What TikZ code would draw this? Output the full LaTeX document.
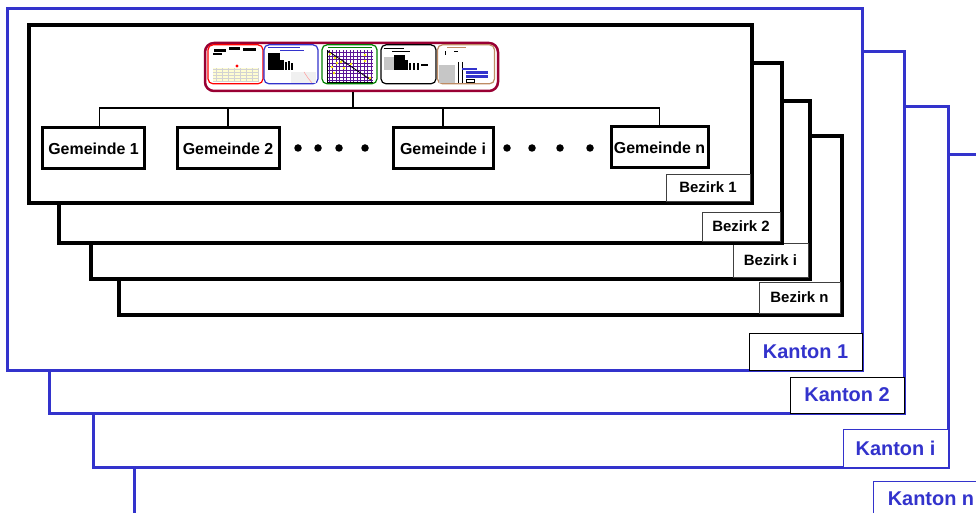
\documentclass[tikz,border=0pt]{standalone}
\usepackage{fontspec}
\setmainfont{Liberation Sans}
\usetikzlibrary{positioning}
\definecolor{kantonblau}{RGB}{51,51,204}
\definecolor{bildrot}{RGB}{153,0,51}
\definecolor{bildgruen}{RGB}{0,128,0}
\definecolor{bildbraun}{RGB}{190,140,100}
\definecolor{gitter}{RGB}{90,20,150}

\begin{document}
\begin{tikzpicture}[x=1bp, y=-1bp,
        kanton/.style={draw=kantonblau, line width=3bp, fill=white},
        bezirk/.style={draw=black, line width=4bp, fill=white},
        kantonlabel/.style={draw=black, line width=0.8bp, fill=white, text=kantonblau, inner sep=0pt, outer sep=0pt, anchor=south east, font=\bfseries\fontsize{20}{24}\selectfont},
        bezirklabel/.style={draw=black!75, line width=0.8bp, fill=white, inner sep=0pt, outer sep=0pt, anchor=south east, font=\bfseries\fontsize{15}{18}\selectfont},
        gemeinde/.style={draw, line width=3bp, fill=white, minimum height=41bp, inner sep=1bp, font=\bfseries\fontsize{16}{19}\selectfont},
        tree/.style={line width=1.5bp},
        punkt/.style={circle, fill=black, inner sep=0pt, minimum size=7.5bp},
        thumb/.style={rounded corners=5bp, line width=1.2bp, fill=white, minimum height=39bp, inner sep=0pt}
    ]
        \useasboundingbox (0,0) rectangle (976,513);
        \clip (0,0) rectangle (976,513);

        % Kantone (hinten nach vorne)
        \draw[kanton] (134,155) rectangle (989,516);
        \node[kantonlabel, draw=kantonblau, minimum width=116bp, minimum height=35bp] (Kn) at (989,516) {Kanton n};
        \draw[kanton] (93,107) rectangle (948,467);
        \node[kantonlabel, draw=kantonblau, minimum width=105bp, minimum height=38bp] (Ki) at (948,467) {Kanton i};
        \draw[kanton] (49,52) rectangle (904,413);
        \node[kantonlabel, minimum width=114bp, minimum height=36bp] (K2) at (904,413) {Kanton 2};
        \draw[kanton] (7,9) rectangle (862,370.5);
        \node[kantonlabel, minimum width=113bp, minimum height=37bp] (K1) at (862,370.5) {Kanton 1};

        % Bezirke (hinten nach vorne)
        \draw[bezirk] (119,136) rectangle (842,315);
        \node[bezirklabel, minimum width=81bp, minimum height=31bp] (Bn) at (840,313) {Bezirk n};
        \draw[bezirk] (91,101) rectangle (810,279);
        \node[bezirklabel, minimum width=75bp, minimum height=34bp] (Bi) at (808,277) {Bezirk i};
        \draw[bezirk] (59,63) rectangle (782,243);
        \node[bezirklabel, minimum width=78bp, minimum height=29bp] (B2) at (780,241) {Bezirk 2};
        \draw[bezirk] (29,25) rectangle (752,203);
        \node[bezirklabel, minimum width=84bp, minimum height=27bp] (B1) at (750,201) {Bezirk 1};

        % Bildergruppe oben
        \node[draw=bildrot, line width=2.5bp, rounded corners=9bp, minimum width=293bp, minimum height=48bp, inner sep=0pt] (bilder) at (351.5,67) {};
        \node[thumb, draw=red, minimum width=55bp] (t1) at (235.5,64.3) {};
        \node[thumb, draw=kantonblau, minimum width=54bp] (t2) at (291,64.3) {};
        \node[thumb, draw=bildgruen, minimum width=55bp] (t3) at (349.5,64.3) {};
        \node[thumb, draw=black, minimum width=55bp] (t4) at (408.5,64.3) {};
        \node[thumb, draw=bildbraun, minimum width=57bp] (t5) at (466,64.3) {};

        % Inhalt der Miniaturen
        \fill (214,49) rectangle (226,52);
        \fill (229,47.5) rectangle (240,50);
        \fill (243,48) rectangle (256,51);
        \fill (213,53) rectangle (222,55);
        \fill[red] (237,66) circle (1.6);
        \fill[yellow!18] (213,68) rectangle (259,82);
        \draw[gray!35, line width=0.3bp, ystep=3bp, xstep=6bp] (213,68) grid (259,82);

        \fill[kantonblau] (268,47.5) rectangle (300,48.5);
        \fill[kantonblau] (280,50) rectangle (304,51);
        \fill (268,53) rectangle (280,70);
        \fill (280,60) rectangle (284,70);
        \fill (285,62) rectangle (287,70);
        \fill (288,61) rectangle (290,70);
        \fill (291,63) rectangle (293,70);
        \fill[gray!12] (291,72) rectangle (316,83);
        \draw[red!40, line width=0.5bp] (304,72) -- (308,78) -- (312,83);

        \fill[bildgruen] (328,47.5) rectangle (372,48.5);
        \draw[gitter, line width=0.45bp, xstep=3.5bp, ystep=3.5bp] (327,50) grid (373,82);
        \draw[line width=0.6bp] (327,50) -- (327,82) -- (373,82);
        \draw[line width=0.8bp] (328,51) -- (371,80);
        \foreach \p in {(330,54),(335,58),(332,67),(337,63),(341,62),(344,68),(351,64),(365,55),(365,61),(370,78),(334,73)}
            \fill[yellow] \p circle (1.3);

        \fill (384,48) rectangle (404,49);
        \fill (392,51) rectangle (410,52);
        \fill[gray!45] (384,57) rectangle (398,70);
        \fill (394,55) rectangle (405,70);
        \fill (405,60) rectangle (408,70);
        \fill (409,63) rectangle (411,70);
        \fill (413,63) rectangle (415,70);
        \fill (417,63) rectangle (419,70);
        \fill (421,64) rectangle (428,66);

        \fill[bildbraun] (447,47.5) rectangle (466,48.5);
        \fill (445,51) rectangle (446,55);
        \fill (454,51) rectangle (458,52);
        \fill[gray!45] (439,65) rectangle (455,83);
        \draw[line width=0.4bp] (458,62) -- (458,83) (462,62) -- (462,83);
        \fill[kantonblau] (462,68) rectangle (477,70);
        \fill[kantonblau] (466,71) rectangle (488,74);
        \fill[kantonblau] (466,75) rectangle (488,78);
        \draw[line width=0.4bp] (466,79) rectangle (474,82);

        % Gemeinden
        \node[gemeinde, minimum width=101bp] (G1) at (93.5,148.5) {Gemeinde 1};
        \node[gemeinde, minimum width=102bp] (G2) at (228,148.5) {Gemeinde 2};
        \node[gemeinde, minimum width=100bp] (Gi) at (443,148.5) {Gemeinde i};
        \node[gemeinde, minimum width=97bp] (Gn) at (659.5,147.5) {Gemeinde n};

        % Punkte dazwischen
        \node[punkt] (p1) at (298,148) {};
        \node[punkt] (p2) at (318,148) {};
        \node[punkt] (p3) at (339,148) {};
        \node[punkt] (p4) at (365,148) {};
        \node[punkt] (p5) at (507,148) {};
        \node[punkt] (p6) at (532,148) {};
        \node[punkt] (p7) at (560,148) {};
        \node[punkt] (p8) at (590,148) {};

        % Baum
        \coordinate (ast) at (353,108);
        \draw[tree] (bilder.south -| ast) -- (ast);
        \draw[tree] ([xshift=6bp]G1.north) |- (ast) -| (Gn.north);
        \draw[tree] (G2.north) -- (G2.north |- ast);
        \draw[tree] (Gi.north) -- (Gi.north |- ast);
\end{tikzpicture}
\end{document}
